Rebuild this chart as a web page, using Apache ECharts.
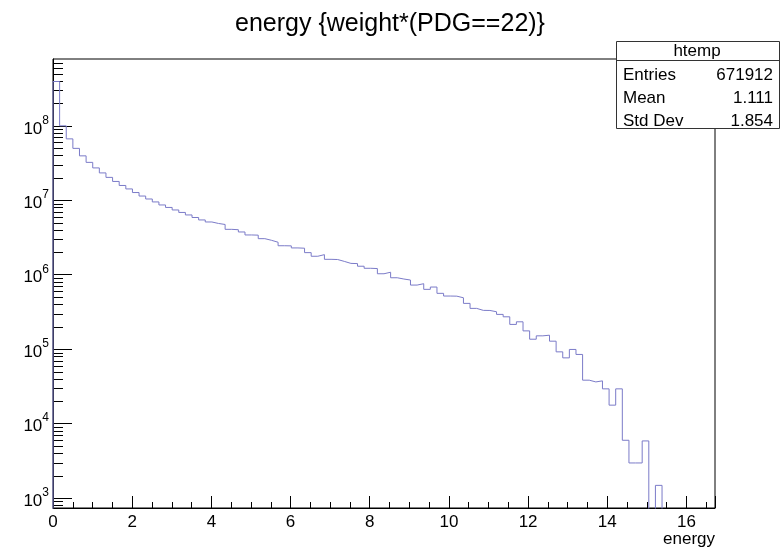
<!DOCTYPE html>
<html>
<head>
<meta charset="utf-8">
<script src="https://cdn.jsdelivr.net/npm/echarts@6/dist/echarts.min.js"></script>
<style>
html, body { margin: 0; padding: 0; background: #fff; }
#main { width: 780px; height: 548px; }
</style>
</head>
<body>
<div id="main"></div>
<script>
// htemp binning (energy axis)
var xMin = 0, xMax = 16.72, nBins = 100;
var yMin = 735, yMax = 7.9e8;

// bin contents, 0 = empty bin
var counts = [
    3.94e8, 1.00e8, 6.68e7, 4.98e7, 3.95e7, 3.23e7, 2.72e7, 2.33e7, 2.03e7, 1.79e7,
    1.58e7, 1.42e7, 1.27e7, 1.14e7, 1.04e7, 9.50e6, 8.65e6, 8.01e6, 7.41e6, 6.86e6,
    6.35e6, 5.87e6, 5.44e6, 5.11e6, 4.88e6, 4.73e6, 4.07e6, 4.02e6, 3.75e6, 3.42e6,
    3.40e6, 3.05e6, 2.90e6, 2.73e6, 2.45e6, 2.44e6, 2.29e6, 2.27e6, 1.98e6, 1.77e6,
    1.86e6, 1.61e6, 1.60e6, 1.51e6, 1.42e6, 1.41e6, 1.30e6, 1.22e6, 1.21e6, 1.03e6,
    1.08e6, 9.10e5, 8.75e5, 8.48e5, 7.26e5, 7.57e5, 6.36e5, 6.83e5, 5.62e5, 5.17e5,
    5.15e5, 4.90e5, 4.12e5, 3.53e5, 3.32e5, 3.31e5, 3.18e5, 2.93e5, 2.72e5, 2.15e5,
    2.33e5, 1.76e5, 1.36e5, 1.51e5, 1.54e5, 1.28e5, 9.20e4, 7.64e4, 9.91e4, 8.49e4,
    3.83e4, 3.63e4, 3.75e4, 2.93e4, 1.77e4, 2.93e4, 5.97e3, 2.96e3, 2.96e3, 5.85e3,
    0, 1.48e3, 0, 0, 0, 0, 0, 0, 0, 0
];

// log axis minor ticks: m * 10^d
var decades = [2, 3, 4, 5, 6, 7, 8];
var minorSteps = [2, 3, 4, 5, 6, 7, 8, 9];

var statNames = ['Entries', 'Mean', 'Std Dev'];
var statValues = ['671912', '1.111', '1.854'];

var FONT = 'Liberation Sans';
var lineColor = '#7b7bc8';

// step outline like ROOT "hist"; empty bins go below the axis and get clipped
var floorValue = 1;
var binWidth = (xMax - xMin) / nBins;
var outline = [[xMin, floorValue]];
for (var i = 0; i < nBins; i++) {
    outline.push([xMin + i * binWidth, counts[i] > 0 ? counts[i] : floorValue]);
}
outline.push([xMax, counts[nBins - 1] > 0 ? counts[nBins - 1] : floorValue]);
outline.push([xMax, floorValue]);

var minorTicks = [];
decades.forEach(function (d) {
    minorSteps.forEach(function (m) {
        var v = m * Math.pow(10, d);
        if (v > yMin && v < yMax) minorTicks.push([xMin, v]);
    });
});

var chart = echarts.init(document.getElementById('main'));

// stats box (TPaveStats look)
var statBox = [
    {
        type: 'rect', z: 100, left: 616, top: 41,
        shape: { width: 163, height: 87 },
        style: { fill: '#fff', stroke: '#333', lineWidth: 1 }
    },
    {
        type: 'line', z: 101,
        shape: { x1: 616, y1: 60.5, x2: 779, y2: 60.5 },
        style: { stroke: '#333', lineWidth: 1 }
    },
    {
        type: 'text', z: 101, x: 697, y: 51,
        style: { text: 'htemp', font: '17px "' + FONT + '"', fill: '#000', align: 'center', verticalAlign: 'middle' }
    }
];
statNames.forEach(function (name, k) {
    statBox.push({
        type: 'text', z: 101, x: 623, y: 75 + k * 23,
        style: { text: name, font: '17px "' + FONT + '"', fill: '#000', align: 'left', verticalAlign: 'middle' }
    });
    statBox.push({
        type: 'text', z: 101, x: 773, y: 75 + k * 23,
        style: { text: statValues[k], font: '17px "' + FONT + '"', fill: '#000', align: 'right', verticalAlign: 'middle' }
    });
});

var option = {
    animation: false,
    backgroundColor: '#fff',
    title: {
        text: 'energy {weight*(PDG==22)}',
        left: 'center',
        top: 7,
        textStyle: { fontFamily: FONT, fontSize: 25, fontWeight: 'normal', color: '#000' }
    },
    grid: {
        left: 53, right: 65, top: 59, bottom: 40,
        show: true, borderColor: '#000', borderWidth: 1, backgroundColor: '#fff'
    },
    xAxis: {
        type: 'value',
        min: xMin, max: xMax, interval: 2,
        name: 'energy',
        nameLocation: 'end',
        nameGap: 0,
        nameTextStyle: {
            fontFamily: FONT, fontSize: 17, color: '#000',
            align: 'right', verticalAlign: 'top', padding: [23, 0, 0, 0]
        },
        axisLine: { lineStyle: { color: '#000', width: 1 } },
        axisTick: { inside: true, length: 12, lineStyle: { color: '#000' } },
        minorTick: { show: true, splitNumber: 4, length: 6, lineStyle: { color: '#000' } },
        axisLabel: {
            fontFamily: FONT, fontSize: 17, color: '#000', margin: 6,
            showMaxLabel: false
        },
        splitLine: { show: false }
    },
    yAxis: {
        type: 'log',
        logBase: 10,
        min: yMin, max: yMax,
        axisLine: { lineStyle: { color: '#000', width: 1 } },
        axisTick: { inside: true, length: 19, lineStyle: { color: '#000' } },
        axisLabel: {
            margin: 4,
            color: '#000',
            showMinLabel: false,
            showMaxLabel: false,
            formatter: function (v) {
                var e = Math.log10(v);
                var r = Math.round(e);
                if (Math.abs(e - r) > 1e-6) return '';
                return '{b|10}{s|' + r + '}';
            },
            rich: {
                b: { fontFamily: FONT, fontSize: 17, color: '#000', padding: [6, 0, 0, 0] },
                s: { fontFamily: FONT, fontSize: 12, color: '#000', verticalAlign: 'top', padding: [0, 0, 6, 0] }
            }
        },
        splitLine: { show: false }
    },
    graphic: statBox,
    series: [
        {
            type: 'line',
            data: outline,
            step: 'end',
            showSymbol: false,
            clip: true,
            lineStyle: { color: lineColor, width: 1 },
            silent: true
        },
        {
            type: 'custom',
            data: minorTicks,
            clip: true,
            silent: true,
            renderItem: function (params, api) {
                var p = api.coord([api.value(0), api.value(1)]);
                var y = Math.round(p[1]) + 0.5;
                return {
                    type: 'line',
                    shape: { x1: p[0], y1: y, x2: p[0] + 10, y2: y },
                    style: { stroke: '#000', lineWidth: 1 }
                };
            }
        }
    ]
};

chart.setOption(option);
</script>
</body>
</html>
